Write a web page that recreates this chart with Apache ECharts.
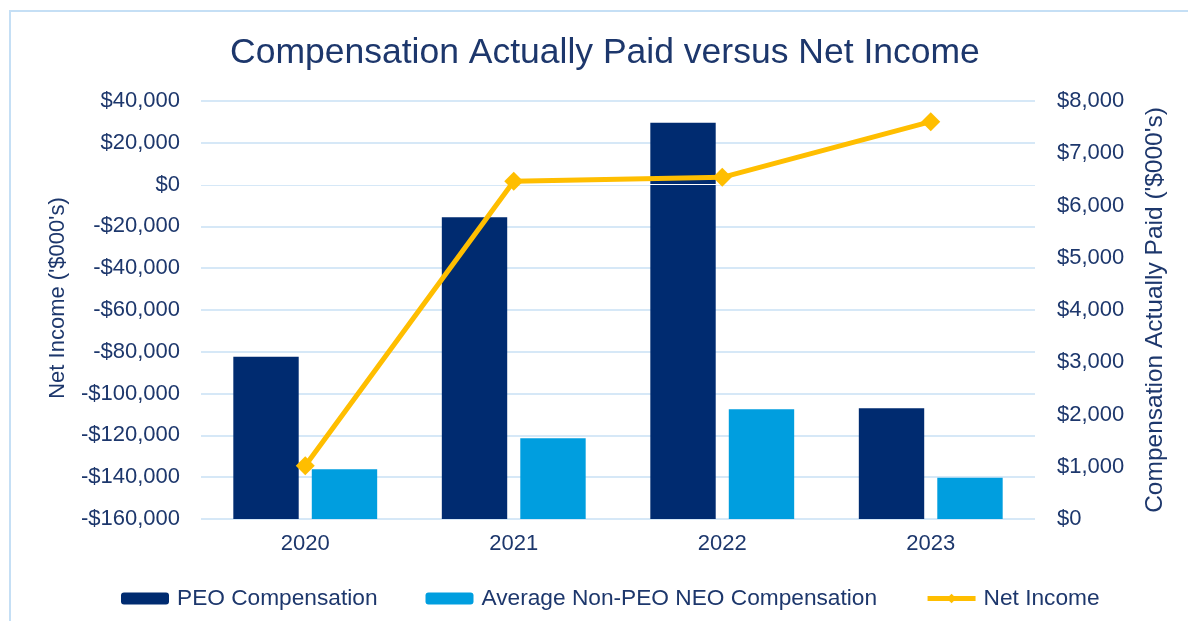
<!DOCTYPE html>
<html>
<head>
<meta charset="utf-8">
<title>Compensation Actually Paid versus Net Income</title>
<script src="https://cdn.jsdelivr.net/npm/echarts@6/dist/echarts.min.js"></script>
<style>
  html, body { margin: 0; padding: 0; background: #ffffff; }
  #chart { width: 1188px; height: 621px; }
</style>
</head>
<body>
<div id="chart"></div>
<script>
// Fiscal years on the category axis
const years = ['2020', '2021', '2022', '2023'];

// Compensation actually paid, $000's (right axis)
const peoCompensation = [3106, 5774, 7585, 2118];
const nonPeoCompensation = [951, 1544, 2100, 791];

// Net income, $000's (left axis)
const netIncome = [-134500, 1580, 3490, 30100];

// Axis ranges and steps
const netIncomeAxis = { min: -160000, max: 40000, step: 20000 };
const compAxis = { min: 0, max: 8000, step: 1000 };

const NAVY_TEXT = '#1D376C';
const FONT = '"Liberation Sans", Arial, sans-serif';

function dollars(v) {
  const s = '$' + Math.abs(v).toLocaleString('en-US');
  return v < 0 ? '-' + s : s;
}

const chart = echarts.init(document.getElementById('chart'), null, { renderer: 'canvas' });

chart.setOption({
  backgroundColor: '#ffffff',
  animation: false,
  textStyle: { fontFamily: FONT },
  graphic: [{
    type: 'rect',
    shape: { x: 10, y: 11, width: 1200, height: 700 },
    style: { fill: 'none', stroke: '#C5DFF5', lineWidth: 2 },
    silent: true,
    z: -1
  }],
  title: {
    text: 'Compensation Actually Paid versus Net Income',
    left: 225,
    top: 30,
    textStyle: { color: NAVY_TEXT, fontSize: 35.5, fontWeight: 'normal', fontFamily: FONT }
  },
  legend: {
    left: 116,
    top: 582,
    itemWidth: 48,
    itemHeight: 12,
    itemGap: 48,
    textStyle: { color: NAVY_TEXT, fontSize: 22.7, fontFamily: FONT, padding: [0, 0, 0, 3] },
    data: [
      'PEO Compensation',
      'Average Non-PEO NEO Compensation',
      { name: 'Net Income', lineStyle: { width: 5 }, itemStyle: { color: '#FFBE00' } }
    ]
  },
  grid: { left: 201, right: 153, top: 101, bottom: 102, containLabel: false },
  xAxis: {
    type: 'category',
    data: years,
    axisLine: { show: false },
    axisTick: { show: false },
    axisLabel: { color: NAVY_TEXT, fontSize: 22, margin: 14, fontFamily: FONT }
  },
  yAxis: [{
    type: 'value',
    position: 'left',
    min: netIncomeAxis.min,
    max: netIncomeAxis.max,
    interval: netIncomeAxis.step,
    name: "Net Income ('$000's)",
    nameLocation: 'middle',
    nameGap: 132,
    nameRotate: 90,
    nameTextStyle: { color: NAVY_TEXT, fontSize: 22, fontFamily: FONT, padding: [0, 0, 0, 24] },
    axisLine: { show: false },
    axisTick: { show: false },
    axisLabel: { color: NAVY_TEXT, fontSize: 22, margin: 21, fontFamily: FONT, formatter: dollars },
    splitLine: { show: true, lineStyle: { color: '#C9E1F5', width: 1.5 } }
  }, {
    type: 'value',
    position: 'right',
    min: compAxis.min,
    max: compAxis.max,
    interval: compAxis.step,
    name: "Compensation Actually Paid ('$000's)",
    nameLocation: 'middle',
    nameGap: 108,
    nameRotate: 90,
    nameTextStyle: { color: NAVY_TEXT, fontSize: 24.5, fontFamily: FONT },
    axisLine: { show: false },
    axisTick: { show: false },
    axisLabel: { color: NAVY_TEXT, fontSize: 22, margin: 22, fontFamily: FONT, formatter: dollars },
    splitLine: { show: false }
  }],
  series: [{
    name: 'PEO Compensation',
    type: 'bar',
    yAxisIndex: 1,
    data: peoCompensation,
    barGap: '20%',
    barCategoryGap: '31%',
    itemStyle: { color: '#002B70' }
  }, {
    name: 'Average Non-PEO NEO Compensation',
    type: 'bar',
    yAxisIndex: 1,
    data: nonPeoCompensation,
    barGap: '20%',
    barCategoryGap: '31%',
    itemStyle: { color: '#009EDF' }
  }, {
    name: 'Net Income',
    type: 'line',
    yAxisIndex: 0,
    data: netIncome,
    symbol: 'diamond',
    symbolSize: 19,
    z: 5,
    lineStyle: { color: '#FFBE00', width: 5 },
    itemStyle: { color: '#FFBE00' },
    markLine: {
      silent: true,
      symbol: 'none',
      label: { show: false },
      lineStyle: { color: '#ffffff', width: 1, type: 'solid' },
      data: [{ yAxis: 0 }],
      z: 3
    }
  }]
});
</script>
</body>
</html>
